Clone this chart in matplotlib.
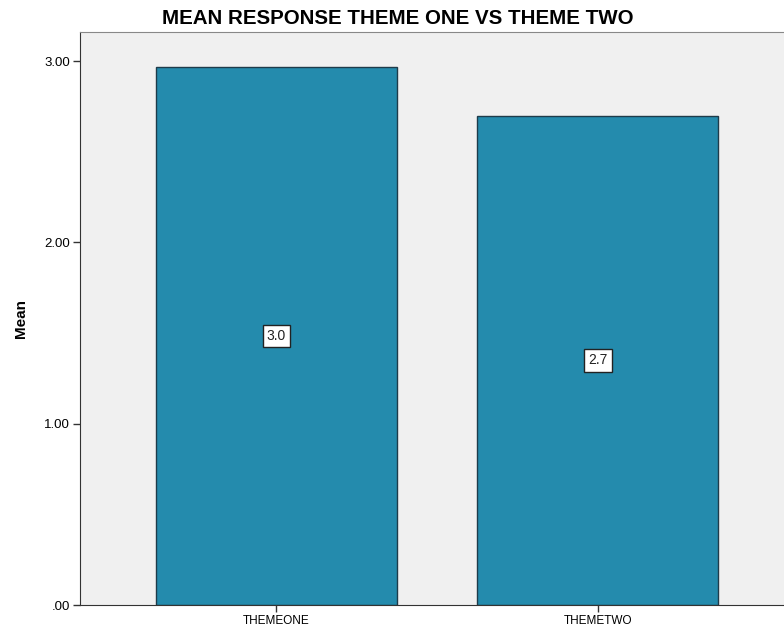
import matplotlib.pyplot as plt

categories = ["THEMEONE", "THEMETWO"]
means = [2.969, 2.698]
value_labels = ["3.0", "2.7"]
yticks = [0.0, 1.0, 2.0, 3.0]
ytick_labels = [".00", "1.00", "2.00", "3.00"]

plt.rcParams["font.family"] = ["Liberation Sans", "DejaVu Sans"]

fig = plt.figure(figsize=(7.84, 6.32), dpi=100)
ax = fig.add_axes([80 / 784, 27 / 632, 1 - 80 / 784, 573 / 632])
ax.set_facecolor("#f0f0f0")

x = range(len(categories))
bars = ax.bar(x, means, width=0.75, color="#248bad", edgecolor="#1e3b4a", linewidth=1.0, zorder=2)

for bar, lab in zip(bars, value_labels):
    ax.text(bar.get_x() + bar.get_width() / 2, bar.get_height() / 2, lab,
            ha="center", va="center", fontsize=10, color="#222222", zorder=3,
            bbox=dict(boxstyle="square,pad=0.3", facecolor="white", edgecolor="#222222", linewidth=1))

ax.set_xlim(-0.611, 1.579)
ax.set_ylim(0, 3.16)
ax.set_xticks(list(x))
ax.set_xticklabels(categories, fontsize=8.5, family=["Liberation Sans Narrow", "Liberation Sans"])
ax.set_yticks(yticks)
ax.set_yticklabels(ytick_labels, fontsize=9.5)
ax.tick_params(direction="out", length=5, width=1, color="#333333", pad=2)

ax.spines["right"].set_visible(False)
ax.spines["top"].set_color("#888888")
ax.spines["left"].set_color("#333333")
ax.spines["bottom"].set_color("#333333")

ax.set_ylabel("Mean", fontsize=11, fontweight="bold", labelpad=12)
fig.text(398 / 784, 1 - 18 / 632, "MEAN RESPONSE THEME ONE VS THEME TWO",
         ha="center", va="center", fontsize=14.8, fontweight="bold")

fig.savefig("out.png", dpi=100)
